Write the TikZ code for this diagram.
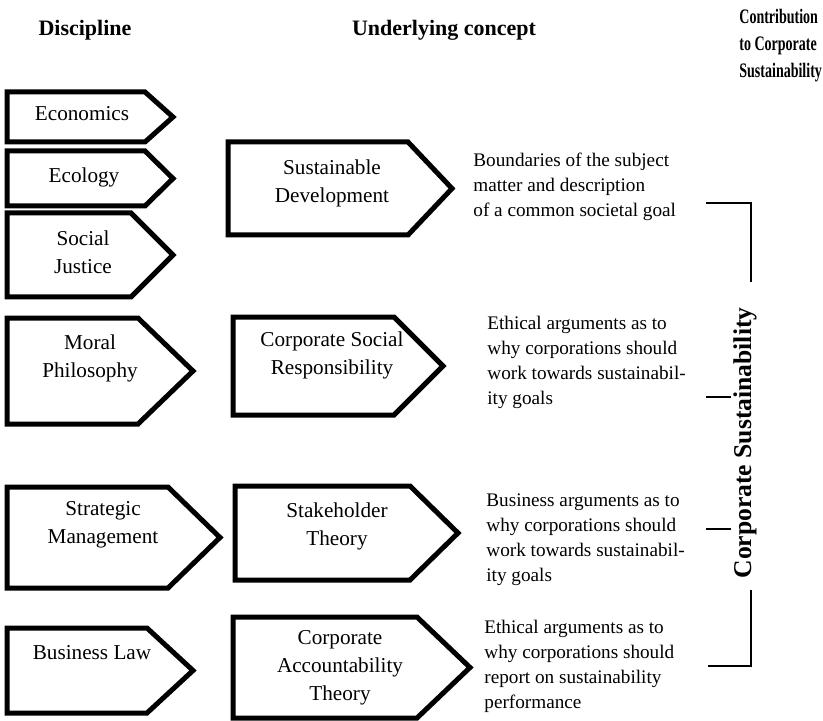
\documentclass[tikz,border=0pt]{standalone}
\usepackage{fontspec}
\setmainfont{Liberation Serif}
\newfontfamily\narrowhead[FakeStretch=0.68]{Liberation Serif}
\usetikzlibrary{positioning}

\begin{document}
\begin{tikzpicture}[x=0.5pt,y=-0.5pt,
  arrowbox/.style={line width=2.5pt,line join=miter},
  boxtext/.style={align=center,inner sep=0pt,font=\fontsize{10.6}{14}\selectfont},
  desc/.style={align=left,anchor=north west,inner sep=0pt,font=\fontsize{9.6}{12.5}\selectfont},
  head/.style={inner sep=0pt,font=\fontsize{11}{13.5}\selectfont\bfseries},
  bracket/.style={line width=1pt}]
	\useasboundingbox (0,0) rectangle (823,721);
	% column heads
	\node (hdisc) [head] at (85,30) {Discipline};
	\node (hconc) [head] at (444,30) {Underlying concept};
	\node (hcont) [head,align=left,anchor=north west,font=\narrowhead\fontsize{10.3}{13.5}\selectfont\bfseries] at (739,9) {Contribution\\to Corporate\\Sustainability};
	% arrow boxes: left/top/bottom/corner/tip
	\foreach \l/\t/\b/\c/\p in {7/92/142/145/173, 7/151/206/145/173, 7/213/297/131/173,
	    7/318/424/138/193, 7/487/588/168/220, 7/628/713/147/193,
	    228/142/235/408/452, 233/317/415/394/443, 235/486/580/410/458, 233/617/718/417/470}
		\draw[arrowbox] (\l,\t) -- (\c,\t) -- (\p,{(\t+\b)/2}) -- (\c,\b) -- (\l,\b) -- cycle;
	% disciplines
	\node (econ)  [boxtext] at (82,114)  {Economics};
	\node (ecol)  [boxtext] at (84,177)  {Ecology};
	\node (socj)  [boxtext] at (83,252)  {Social\\Justice};
	\node (moral) [boxtext] at (90,358)  {Moral\\Philosophy};
	\node (strat) [boxtext] at (103,525) {Strategic\\Management};
	\node (blaw)  [boxtext] at (92,653)  {Business Law};
	% concepts
	\node (susdev) [boxtext] at (332,183) {Sustainable\\Development};
	\node (csr)    [boxtext] at (332,355) {Corporate Social\\Responsibility};
	\node (stake)  [boxtext] at (337,526) {Stakeholder\\Theory};
	\node (cat)    [boxtext] at (340,668) {Corporate\\Accountability\\Theory};
	% contributions
	\node (dsd)    [desc] at (473,153) {Boundaries of the subject\\matter and description\\of a common societal goal};
	\node (dcsr)   [desc] at (487,316) {Ethical arguments as to\\why corporations should\\work towards sustainabil-\\ity goals};
	\node (dstake) [desc] at (486,493) {Business arguments as to\\why corporations should\\work towards sustainabil-\\ity goals};
	\node (dcat)   [desc] at (484,620) {Ethical arguments as to\\why corporations should\\report on sustainability\\performance};
	% bracket
	\node (cs) [rotate=90,inner sep=0pt,font=\fontsize{12.8}{15}\selectfont\bfseries] at (745,443) {Corporate Sustainability};
	\coordinate (ta) at (706,203);
	\coordinate (tb) at (751,203);
	\coordinate (tc) at (751,282);
	\coordinate (ma) at (706,397);
	\coordinate (mb) at (731,397);
	\coordinate (na) at (706,529);
	\coordinate (nb) at (731,529);
	\coordinate (ba) at (751,590);
	\coordinate (bb) at (751,666);
	\coordinate (bc) at (708,666);
	\draw[bracket] (ta) -- (tb) -- (tc);
	\draw[bracket] (ma) -- (mb);
	\draw[bracket] (na) -- (nb);
	\draw[bracket] (ba) -- (bb) -- (bc);
\end{tikzpicture}
\end{document}
